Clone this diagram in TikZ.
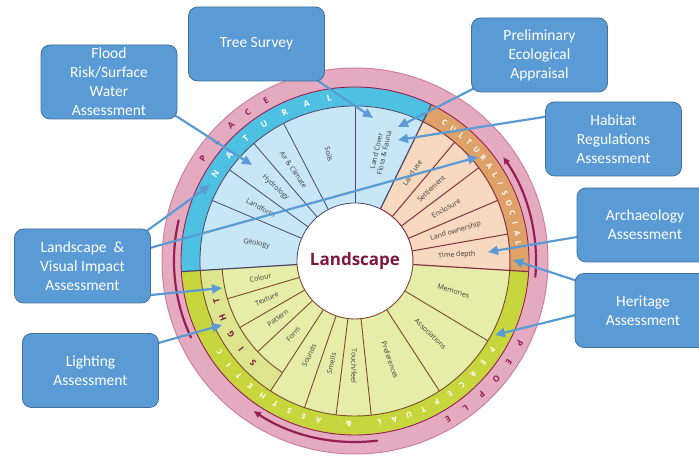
\documentclass[tikz,border=0pt]{standalone}
\usepackage{fontspec}
\setmainfont{Carlito}
\newfontfamily\wfont{Open Sans}
\usetikzlibrary{arrows.meta}
\definecolor{pinkring}{RGB}{228,170,192}
\definecolor{pinkedge}{RGB}{205,130,160}
\definecolor{darkmag}{RGB}{150,30,85}
\definecolor{natring}{RGB}{78,192,226}
\definecolor{natseg}{RGB}{199,231,247}
\definecolor{natline}{RGB}{75,70,105}
\definecolor{culring}{RGB}{222,162,104}
\definecolor{culseg}{RGB}{246,217,190}
\definecolor{culline}{RGB}{135,50,65}
\definecolor{perring}{RGB}{200,214,62}
\definecolor{perseg}{RGB}{229,237,168}
\definecolor{sightband}{RGB}{221,230,142}
\definecolor{perline}{RGB}{125,75,45}
\definecolor{boxblue}{RGB}{91,155,213}
\definecolor{boxedge}{RGB}{65,113,156}
\definecolor{landtext}{RGB}{125,25,60}
\definecolor{labelgray}{RGB}{60,60,60}
\pgfdeclarelayer{bg}
\pgfsetlayers{bg,main}
\newcommand\wsector[5]{\fill[#1] (#2:#4pt) arc[start angle=#2, end angle=#3, radius=#4pt] -- (#3:#5pt) arc[start angle=#3, end angle=#2, radius=#5pt] -- cycle;}
\newcommand\arcletters[5]{%
  \foreach \ch [count=\i from 0] in {#5} {%
    \pgfmathsetmacro\ang{#1-\i*#2}%
    \node[ringletter,#4,rotate=\ang-90] at (\ang:#3pt) {\ch};
  }}
\begin{document}
\begin{tikzpicture}[x=1pt,y=1pt,
  box/.style={draw=boxedge, line width=0.8pt, fill=boxblue, rounded corners=9pt,
    minimum width=136pt, minimum height=74pt, text=white, align=center,
    font=\fontsize{15.5}{19}\selectfont, inner xsep=2pt, inner ysep=0pt},
  callout/.style={draw=boxblue, line width=2.2pt, -{Triangle[length=10pt,width=9pt]}, shorten <=-5pt},
  seglabel/.style={font=\wfont\fontsize{7}{8}\selectfont, text=labelgray, inner sep=0pt, align=center},
  ringletter/.style={font=\wfont\bfseries\fontsize{8.5}{8.5}\selectfont, inner sep=0pt},
  smallletter/.style={font=\wfont\bfseries\fontsize{7.5}{7.5}\selectfont},
  natl/.style={draw=natline, line width=0.8pt},
  cull/.style={draw=culline, line width=1pt},
  perl/.style={draw=perline, line width=0.9pt},
]
\useasboundingbox (0,0) rectangle (699,462);
\clip (0,0) rectangle (699,462);

\begin{pgfonlayer}{bg}
\begin{scope}[shift={(355,201)}]
  % pink outer ring
  \fill[pinkring, draw=pinkedge, line width=1pt] (0,0) circle[radius=193pt];
  % coloured rings
  \wsector{natring}{64}{183.5}{174}{155}
  \wsector{culring}{-3.5}{64}{174}{155}
  \wsector{perring}{183.5}{356.5}{174}{155}
  % segments
  \wsector{natseg}{64}{183.5}{155}{58}
  \wsector{culseg}{-3.5}{64}{155}{58}
  \wsector{perseg}{183.5}{356.5}{155}{58}
  \wsector{sightband}{183.5}{237}{155}{133}
  \draw[darkmag, line width=0.9pt] (0,0) circle[radius=174pt];
  % ring inner borders
  \draw[natl] (64:155pt) arc[start angle=64, end angle=183.5, radius=155pt];
  \draw[cull] (-3.5:155pt) arc[start angle=-3.5, end angle=64, radius=155pt];
  \draw[perl] (183.5:155pt) arc[start angle=183.5, end angle=356.5, radius=155pt];
  \draw[perl] (183.5:133pt) arc[start angle=183.5, end angle=237, radius=133pt];
  % segment lines
  \foreach \a in {157,144,130.7,117.4,90} \draw[natl] (\a:58pt) -- (\a:155pt);
  \foreach \a in {50,37,23,10} \draw[cull] (\a:58pt) -- (\a:155pt);
  \foreach \a in {-31,-57,-84,-97,-109,-123} \draw[perl] (\a:58pt) -- (\a:155pt);
  \foreach \a in {-137,-150,-163.5} \draw[perl] (\a:58pt) -- (\a:133pt);
  % section dividers
  \draw[natline, line width=1.2pt] (64:58pt) -- (64:174pt);
  \draw[natline, line width=1.2pt] (183.5:58pt) -- (183.5:174pt);
  \draw[culline, line width=1.2pt] (-3.5:58pt) -- (-3.5:174pt);
  % centre
  \fill[white] (0,0) circle[radius=58pt];
  \draw[natl] (64:58pt) arc[start angle=64, end angle=183.5, radius=58pt];
  \draw[cull] (-3.5:58pt) arc[start angle=-3.5, end angle=64, radius=58pt];
  \draw[perl] (183.5:58pt) arc[start angle=183.5, end angle=356.5, radius=58pt];
  \node[font=\wfont\bfseries\fontsize{17}{17}\selectfont, text=landtext] (centre) at (0,0) {Landscape};
  % arc arrows in pink ring
  \draw[darkmag, line width=2.2pt, line cap=round, -{Triangle[length=7pt,width=6pt]}] (-5:181pt) arc[start angle=-5, end angle=35, radius=181pt];
  \draw[darkmag, line width=2.2pt, line cap=round, -{Triangle[length=7pt,width=6pt]}] (-83:181pt) arc[start angle=-83, end angle=-124, radius=181pt];
  \draw[darkmag, line width=2.2pt, line cap=round] (167:181pt) arc[start angle=167, end angle=205, radius=181pt];
  % ring letters
  \arcletters{148}{8.17}{164.5}{text=white}{N,A,T,U,R,A,L}
  \arcletters{57}{3.64}{164.5}{text=white,smallletter}{C,U,L,T,U,R,A,L,/,S,O,C,I,A,L}
  \arcletters{-33}{5.38}{163.5}{text=white,smallletter}{P,E,R,C,E,P,T,U,A,L,{},\&,{},A,E,S,T,H,E,T,I,C}
  \arcletters{146}{6.75}{183.5}{text=darkmag}{P,L,A,C,E}
  \arcletters{-26.6}{6.6}{184}{text=darkmag}{P,E,O,P,L,E}
  \arcletters{225}{7.25}{144}{text=landtext}{S,I,G,H,T}
  % segment labels: natural
  \node[seglabel, rotate=350] at (170:100pt) {Geology};
  \node[seglabel, rotate=330.5] at (150.5:108pt) {Landform};
  \node[seglabel, rotate=317.3] at (137.3:108pt) {Hydrology};
  \node[seglabel, rotate=304] at (124:110pt) {Air \& Climate};
  \node[seglabel, rotate=283.7] at (103.7:110pt) {Soils};
  \node[seglabel, rotate=77] at (77:112pt) {Land Cover\\Flora \& Fauna};
  % cultural
  \node[seglabel, rotate=57] at (57:105pt) {Land use};
  \node[seglabel, rotate=43.5] at (43.5:105pt) {Settlement};
  \node[seglabel, rotate=30] at (30:105pt) {Enclosure};
  \node[seglabel, rotate=16.5] at (16.5:105pt) {Land ownership};
  \node[seglabel, rotate=3.3] at (3.3:102pt) {Time depth};
  % perceptual
  \node[seglabel, rotate=-17] at (-17:103pt) {Memories};
  \node[seglabel, rotate=-44] at (-44:105pt) {Associations};
  \node[seglabel, rotate=-70.5] at (-70.5:105pt) {Preferences};
  \node[seglabel, rotate=-90.5] at (-90.5:105pt) {Touch/feel};
  \node[seglabel, rotate=77] at (-103:105pt) {Smells};
  \node[seglabel, rotate=64] at (-116:105pt) {Sounds};
  \node[seglabel, rotate=50] at (-130:96pt) {Form};
  \node[seglabel, rotate=36.5] at (-143.5:96pt) {Pattern};
  \node[seglabel, rotate=23.3] at (-156.7:96pt) {Texture};
  \node[seglabel, rotate=10] at (-170:96pt) {Colour};
\end{scope}
\end{pgfonlayer}

% callout boxes
\node[box] (flood) at (109,380) {Flood\\Risk/Surface\\Water\\Assessment};
\node[box] (tree) at (256.5,418) {Tree Survey};
\node[box] (prelim) at (539.5,407) {Preliminary\\Ecological\\Appraisal};
\node[box] (habitat) at (613.5,323) {Habitat\\Regulations\\Assessment};
\node[box] (lvia) at (82.5,196) {Landscape \ \&\\Visual Impact\\Assessment};
\node[box] (lighting) at (90.5,91.5) {Lighting\\Assessment};
\node[box] (arch) at (645,237) {Archaeology\\Assessment};
\node[box] (heritage) at (643,151.5) {Heritage\\Assessment};

% arrow tips
\coordinate (tA) at (252,297);
\coordinate (tB) at (373,344);
\coordinate (tC) at (398,335);
\coordinate (tD) at (398,322);
\coordinate (tE1) at (210,277);
\coordinate (tE2) at (478,305);
\coordinate (tE3) at (222,174);
\coordinate (tF) at (222,137);
\coordinate (tG) at (488,210);
\coordinate (tH1) at (513,202);
\coordinate (tH2) at (495,127);

\begin{pgfonlayer}{bg}
\draw[callout] (flood.-27) -- (tA);
\draw[callout] (tree.-31) -- (tB);
\draw[callout] (prelim.207) -- (tC);
\draw[callout] (habitat.162) -- (tD);
\draw[callout] (lvia.29) -- (tE1);
\draw[callout] (lvia.15) -- (tE2);
\draw[callout] (lvia.-23) -- (tE3);
\draw[callout] (lighting.22) -- (tF);
\draw[callout] (arch.190) -- (tG);
\draw[callout] (heritage.156) -- (tH1);
\draw[callout] (heritage.184) -- (tH2);
\end{pgfonlayer}
\end{tikzpicture}
\end{document}
